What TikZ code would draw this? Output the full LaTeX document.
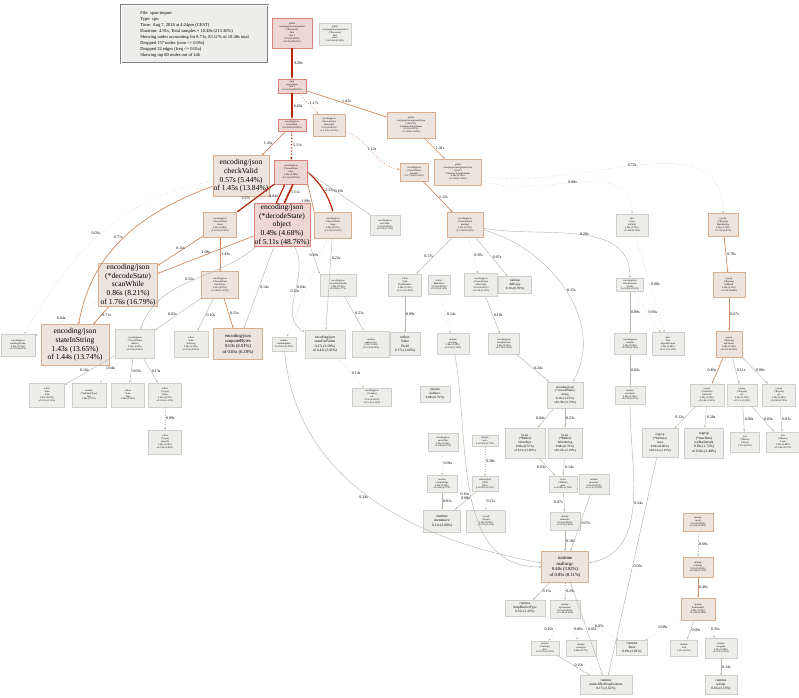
\documentclass[tikz,border=0pt]{standalone}
\usepackage{fontspec}
\setmainfont{Liberation Serif}
\usetikzlibrary{arrows.meta}
\definecolor{gfill}{HTML}{EDEDEB}\definecolor{gline}{HTML}{CFCFC9}
\definecolor{bfill}{HTML}{EDE4DD}\definecolor{bline}{HTML}{D8AE90}
\definecolor{rfill}{HTML}{EED6D2}\definecolor{rline}{HTML}{D5837A}
\definecolor{eg}{HTML}{B8B6AE}\definecolor{eb}{HTML}{CC8C62}\definecolor{er}{HTML}{B5260C}
\tikzset{
 base/.style={draw, rectangle, align=center, inner sep=0.6pt, line width=0.6pt, font=\fontsize{2.4}{2.9}\selectfont},
 gry/.style={base, fill=gfill, draw=gline},
 bei/.style={base, fill=bfill, draw=bline},
 rd/.style={base, fill=rfill, draw=rline},
 big/.style={font=\fontsize{7.6}{8.6}\selectfont},
 mid/.style={font=\fontsize{4.6}{5.4}\selectfont},
 e/.style={-{Stealth[length=2.4pt,width=2pt]}, draw=eg, line width=0.45pt},
 eb/.style={e, draw=eb, line width=0.7pt},
 er/.style={e, draw=er, line width=1.2pt},
 dt/.style={dotted},
 lab/.style={font=\fontsize{4}{4.6}\selectfont, inner sep=1pt, text=black},
}
\begin{document}
\begin{tikzpicture}[x=1pt,y=-1pt]
\useasboundingbox (0,0) rectangle (799,697);
% legend
\node[draw=gray, double, double distance=1pt, fill=gfill, align=left, anchor=north west, inner sep=2.5pt, font=\fontsize{4.5}{6}\selectfont, minimum width=147pt, minimum height=58pt] (legend) at (121,5) {File: span-import\\Type: cpu\\Time: Aug 7, 2018 at 4:24pm (CEST)\\Duration: 4.91s, Total samples = 10.48s (213.36\%)\\Showing nodes accounting for 8.71s, 83.11\% of 10.48s total\\Dropped 157 nodes (cum <= 0.05s)\\Dropped 32 edges (freq <= 0.01s)\\Showing top 80 nodes out of 146};
% nodes
\node[rd, minimum width=40pt, minimum height=30pt] (run1) at (292,33) {github\\com/jaegertracing/parallel\\(*Processor)\\Run\\func1\\0.01s (0.095\%)\\of 9.35s (89.22\%)};
\node[gry, minimum width=32pt, minimum height=22pt] (run2) at (335,34) {github\\com/jaegertracing/parallel\\(*Processor)\\Run\\func2\\0 of 0.04s (0.38\%)};
\node[rd, minimum width=28pt, minimum height=14pt] (proc) at (292,86) {main\\processSpan\\func1\\0 of 9.25s (88.26\%)};
\node[rd, minimum width=28pt, minimum height=12pt] (unm) at (292,125) {encoding/json\\Unmarshal\\0 of 6.60s (62.98\%)};
\node[bei, minimum width=32pt, minimum height=22pt] (dunm) at (329,125) {encoding/json\\(*decodeState)\\unmarshal\\0.01s (0.095\%)\\of 1.17s (11.16\%)};
\node[bei, minimum width=48pt, minimum height=26pt] (tel1) at (411,125) {github\\com/jaegertracing/model/json\\(*AttrsV1)\\TelemetryAttrsSchema\\0.01s (0.095\%)\\of 1.43s (13.64\%)};
\node[bei, big, minimum width=53pt, minimum height=41pt] (chk) at (241,176) {encoding/json\\checkValid\\0.57s (5.44\%)\\of 1.45s (13.84\%)};
\node[rd, minimum width=33pt, minimum height=24pt] (val) at (291,172) {encoding/json\\(*decodeState)\\value\\0.05s (0.48\%)\\of 5.11s (48.76\%)};
\node[bei, minimum width=28pt, minimum height=18pt] (mar) at (414,172) {encoding/json\\(*encodeState)\\marshal\\0 of 1.12s (10.69\%)};
\node[bei, minimum width=47pt, minimum height=26pt] (tel2) at (458,172) {github\\com/jaegertracing/model/json\\AttrsV1\\TelemetryToJsonSchema\\0.02s (0.19\%)\\of 1.41s (13.45\%)};
\node[bei, minimum width=33pt, minimum height=25pt] (lit) at (220,225) {encoding/json\\(*decodeState)\\literal\\0.05s (0.48\%)\\of 2.67s (25.48\%)};
\node[rd, big, minimum width=51pt, minimum height=38pt] (obj) at (282,225) {encoding/json\\(*decodeState)\\object\\0.49s (4.68\%)\\of 5.11s (48.76\%)};
\node[bei, minimum width=37pt, minimum height=26pt] (arr) at (333,225) {encoding/json\\(*decodeState)\\array\\0.06s (0.57\%)\\of 2.33s (22.23\%)};
\node[gry, minimum width=30pt, minimum height=20pt] (nxt) at (385,225) {encoding/json\\nextValue\\0.01s (0.095\%)\\of 0.18s (1.72\%)};
\node[bei, minimum width=36pt, minimum height=25pt] (enc) at (465,225) {encoding/json\\(*encodeState)\\marshal\\0.07s (0.67\%)\\of 1.12s (10.69\%)};
\node[gry, minimum width=32pt, minimum height=22pt] (fmt) at (632,225) {fmt\\(*pp)\\doPrintf\\0.04s (0.38\%)\\of 0.08s (0.76\%)};
\node[bei, minimum width=30pt, minimum height=23pt] (rms) at (723,225) {regexp\\(*Regexp)\\MatchString\\0.02s (0.19\%)\\of 0.72s (6.87\%)};
\node[bei, big, minimum width=59pt, minimum height=43pt] (scw) at (128,285) {encoding/json\\(*decodeState)\\scanWhile\\0.86s (8.21\%)\\of 1.76s (16.79\%)};
\node[bei, minimum width=37pt, minimum height=27pt] (lst) at (220,285) {encoding/json\\(*decodeState)\\literalStore\\0.07s (0.67\%)\\of 1.43s (13.65\%)};
\node[gry, minimum width=36pt, minimum height=22pt] (ctf) at (338,285) {encoding/json\\cachedTypeFields\\0.08s (0.76\%)\\of 0.29s (2.77\%)};
\node[gry, minimum width=33pt, minimum height=22pt] (fbi) at (405,285) {reflect\\Value\\FieldByIndex\\0.08s (0.76\%)\\of 0.17s (1.62\%)};
\node[gry, minimum width=22pt, minimum height=19pt] (msl) at (439,285) {reflect\\MakeSlice\\0.01s (0.095\%)\\of 0.22s (2.10\%)};
\node[gry, minimum width=33pt, minimum height=23pt] (rvl) at (481,285) {encoding/json\\(*encodeState)\\reflectValue\\0.01s (0.095\%)\\of 0.39s (3.72\%)};
\node[gry, minimum width=33pt, minimum height=17pt, font=\fontsize{3.2}{3.8}\selectfont] (dcp) at (515,285) {runtime\\duffcopy\\0.10s (0.95\%)};
\node[gry, minimum width=27pt, minimum height=13pt] (sen) at (630,285) {encoding/json\\structEncoder\\encode\\0 of 0.20s (1.91\%)};
\node[bei, minimum width=32pt, minimum height=25pt] (dmt) at (729,285) {regexp\\(*Regexp)\\doMatch\\0.02s (0.19\%)\\of 0.70s (6.68\%)};
\node[gry, minimum width=34pt, minimum height=22pt] (sbv) at (18,345) {encoding/json\\stateBeginValue\\0.06s (0.57\%)\\of 0.07s (0.67\%)};
\node[bei, big, minimum width=68pt, minimum height=41pt] (sis) at (75,345) {encoding/json\\stateInString\\1.43s (13.65\%)\\of 1.44s (13.74\%)};
\node[gry, minimum width=39pt, minimum height=29pt] (ind) at (135,344) {encoding/json\\(*decodeState)\\indirect\\0.16s (1.53\%)\\of 0.61s (5.82\%)};
\node[gry, minimum width=34pt, minimum height=26pt] (sst) at (191,344) {reflect\\Value\\SetString\\0.08s (0.76\%)\\of 0.10s (0.95\%)};
\node[bei, mid, minimum width=49pt, minimum height=31pt] (unq) at (238,344) {encoding/json\\unquoteBytes\\0.63s (6.01\%)\\of 0.65s (6.20\%)};
\node[gry, minimum width=24pt, minimum height=14pt] (smd) at (284,344) {runtime\\stackmapdata\\0 of 0.24s (2.29\%)};
\node[gry, minimum width=40pt, minimum height=28pt, font=\fontsize{3.6}{4.3}\selectfont] (sev) at (325,344) {encoding/json\\stateEndValue\\0.27s (2.58\%)\\of 0.41s (3.91\%)};
\node[gry, minimum width=37pt, minimum height=26pt] (map) at (371,344) {runtime\\mapaccess1\\0.13s (1.24\%)\\of 0.21s (2.00\%)};
\node[gry, minimum width=30pt, minimum height=23pt, font=\fontsize{3.6}{4.3}\selectfont] (fld) at (405,344) {reflect\\Value\\Field\\0.17s (1.62\%)};
\node[gry, minimum width=32pt, minimum height=21pt] (nar) at (453,344) {runtime\\newarray\\0.04s (0.38\%)\\of 0.14s (1.34\%)};
\node[gry, minimum width=31pt, minimum height=21pt] (sten) at (504,344) {encoding/json\\stringEncoder\\0.02s (0.19\%)\\of 0.32s (3.05\%)};
\node[gry, minimum width=32pt, minimum height=21pt] (cmp) at (630,344) {encoding/json\\compact\\0.04s (0.38\%)\\of 0.08s (0.76\%)};
\node[gry, minimum width=32pt, minimum height=23pt] (apf) at (668,344) {time\\Time\\AppendFormat\\0.05s (0.48\%)\\of 0.11s (1.05\%)};
\node[bei, minimum width=26pt, minimum height=26pt] (dex) at (729,344) {regexp\\(*Regexp)\\doExecute\\0.08s (0.76\%)\\of 0.67s (6.39\%)};
\node[gry, minimum width=35pt, minimum height=24pt] (adr) at (47,395) {reflect\\Value\\Addr\\0.07s (0.67\%)\\of 0.16s (1.53\%)};
\node[gry, minimum width=34pt, minimum height=24pt] (itb) at (89,395) {runtime\\(*itabTableType)\\find\\0.06s (0.57\%)};
\node[gry, minimum width=33pt, minimum height=24pt] (typ) at (128,395) {reflect\\Value\\Type\\0.08s (0.76\%)};
\node[gry, minimum width=33pt, minimum height=24pt] (nam) at (165,395) {reflect\\(*rtype)\\Name\\0.06s (0.57\%)\\of 0.16s (1.53\%)};
\node[gry, minimum width=39pt, minimum height=18pt] (eoc) at (372,397) {encoding/json\\(*scanner)\\eof\\0.01s (0.095\%)\\of 0.14s (1.34\%)};
\node[gry, minimum width=30pt, minimum height=16pt, font=\fontsize{3.2}{3.8}\selectfont] (dzr) at (435,394) {runtime\\duffzero\\0.08s (0.76\%)};
\node[gry, minimum width=36pt, minimum height=26pt, font=\fontsize{3.2}{3.8}\selectfont] (ess) at (565,395) {encoding/json\\(*encodeState)\\string\\0.12s (1.15\%)\\of 0.39s (3.72\%)};
\node[gry, minimum width=30pt, minimum height=18pt] (nob) at (630,395) {runtime\\newobject\\0.02s (0.19\%)\\of 0.28s (2.67\%)};
\node[gry, minimum width=34pt, minimum height=22pt] (btr) at (707,395) {regexp\\(*machine)\\backtrack\\0.02s (0.19\%)\\of 0.40s (3.82\%)};
\node[gry, minimum width=30pt, minimum height=22pt] (put) at (742,395) {regexp\\(*Regexp)\\put\\0.02s (0.19\%)\\of 0.11s (1.05\%)};
\node[gry, minimum width=33pt, minimum height=22pt] (get) at (779,395) {regexp\\(*Regexp)\\get\\0.04s (0.38\%)\\of 0.08s (0.76\%)};
\node[gry, minimum width=33pt, minimum height=24pt] (nof) at (165,442) {reflect\\(*rtype)\\nameOff\\0.04s (0.38\%)\\of 0.09s (0.86\%)};
\node[gry, minimum width=30pt, minimum height=18pt] (qch) at (443,442) {encoding/json\\quoteChar\\0.02s (0.19\%)\\of 0.06s (0.57\%)};
\node[gry, minimum width=26pt, minimum height=11pt] (mqb) at (485,441) {runtime\\write\\0 of 0.29s (2.77\%)};
\node[gry, minimum width=40pt, minimum height=30pt, font=\fontsize{3.2}{3.8}\selectfont] (wrb) at (525,443) {bytes\\(*Buffer)\\WriteByte\\0.06s (0.57\%)\\of 0.11s (1.05\%)};
\node[gry, minimum width=34pt, minimum height=30pt, font=\fontsize{3.2}{3.8}\selectfont] (wrs) at (565,443) {bytes\\(*Buffer)\\WriteString\\0.08s (0.76\%)\\of 0.23s (2.19\%)};
\node[gry, minimum width=36pt, minimum height=29pt, font=\fontsize{3.2}{3.8}\selectfont] (rst) at (660,443) {regexp\\(*bitState)\\reset\\0.09s (0.86\%)\\of 0.12s (1.15\%)};
\node[gry, minimum width=39pt, minimum height=30pt, font=\fontsize{3.6}{4.3}\selectfont] (tbk) at (704,443) {regexp\\(*machine)\\tryBacktrack\\0.18s (1.72\%)\\of 0.26s (2.48\%)};
\node[gry, minimum width=29pt, minimum height=20pt] (unl) at (745,442) {sync\\(*Mutex)\\Unlock\\0.07s (0.67\%)};
\node[gry, minimum width=34pt, minimum height=20pt] (lck) at (783,442) {sync\\(*Mutex)\\Lock\\0.05s (0.48\%)\\of 0.06s (0.57\%)};
\node[gry, minimum width=30pt, minimum height=17pt] (cst) at (442,484) {runtime\\concatstrings\\0.02s (0.19\%)\\of 0.06s (0.57\%)};
\node[gry, minimum width=26pt, minimum height=15pt] (wr2) at (485,484) {internal/poll\\(*FD)\\Write\\0 of 0.28s (2.67\%)};
\node[gry, minimum width=28pt, minimum height=16pt] (grw) at (563,484) {bytes\\(*Buffer)\\grow\\0 of 0.08s (0.76\%)};
\node[gry, minimum width=30pt, minimum height=20pt] (gsl) at (594,484) {runtime\\growslice\\0.01s (0.095\%)\\of 0.11s (1.05\%)};
\node[gry, minimum width=37pt, minimum height=22pt, font=\fontsize{3.6}{4.3}\selectfont] (mmv) at (442,521) {runtime\\memmove\\0.21s (2.00\%)};
\node[gry, minimum width=39pt, minimum height=22pt] (sys) at (486,521) {syscall\\Syscall\\0.10s (0.95\%)\\of 0.12s (1.15\%)};
\node[gry, minimum width=30pt, minimum height=18pt] (msk) at (565,521) {runtime\\makeslice\\0.01s (0.095\%)\\of 0.19s (1.81\%)};
\node[bei, minimum width=30pt, minimum height=18pt] (mcl) at (698,522) {runtime\\mcall\\0.01s (0.095\%)\\of 0.62s (5.92\%)};
\node[bei, mid, minimum width=47pt, minimum height=31pt] (mgc) at (565,567) {runtime\\mallocgc\\0.40s (3.82\%)\\of 0.85s (8.11\%)};
\node[bei, minimum width=30pt, minimum height=20pt] (sch) at (698,567) {runtime\\schedule\\0.01s (0.095\%)\\of 0.60s (5.73\%)};
\node[gry, minimum width=40pt, minimum height=16pt, font=\fontsize{3.4}{4}\selectfont] (hbs) at (525,608) {runtime\\heapBitsSetType\\0.15s (1.43\%)};
\node[gry, minimum width=30pt, minimum height=18pt] (sst2) at (565,609) {runtime\\systemstack\\0.01s (0.095\%)\\of 0.44s (4.20\%)};
\node[bei, minimum width=34pt, minimum height=22pt] (fru) at (698,609) {runtime\\findrunnable\\0.08s (0.76\%)\\of 0.48s (4.58\%)};
\node[gry, minimum width=28pt, minimum height=14pt] (mha) at (545,648) {runtime\\(*mheap)\\alloc\\0 of 0.16s (1.53\%)};
\node[gry, minimum width=30pt, minimum height=16pt] (sob) at (581,648) {runtime\\scanobject\\0.06s (0.57\%)};
\node[gry, minimum width=31pt, minimum height=15pt, font=\fontsize{3.4}{4}\selectfont] (ftx) at (632,648) {runtime\\futex\\0.19s (1.81\%)};
\node[gry, minimum width=27pt, minimum height=16pt] (lk) at (684,648) {runtime\\lock\\0.07s (0.67\%)};
\node[gry, minimum width=32pt, minimum height=20pt] (rqg) at (721,648) {runtime\\runqgrab\\0.05s (0.48\%)\\of 0.19s (1.81\%)};
\node[gry, minimum width=52pt, minimum height=19pt, font=\fontsize{3.4}{4}\selectfont] (mcnp) at (606,685) {runtime\\memclrNoHeapPointers\\0.17s (1.62\%)};
\node[gry, minimum width=32pt, minimum height=19pt, font=\fontsize{3.4}{4}\selectfont] (usl) at (721,685) {runtime\\usleep\\0.16s (1.53\%)};
% edges
\draw[er, line width=2.2pt] (run1) -- node[lab,right]{9.28s} (proc);
\draw[er, line width=1.8pt] (proc) -- node[lab,right]{6.60s} (unm);
\draw[eb, dt] (proc) -- node[lab,right]{1.17s} (dunm);
\draw[eb] (proc) -- node[lab,above]{1.43s} (tel1);
\draw[eb] (unm) -- node[lab,left]{1.45s} (chk);
\draw[er, dt] (unm) -- node[lab,right]{5.11s} (val);
\draw[eb] (tel1) -- node[lab,right]{1.41s} (tel2);
\draw[eb, dt] (dunm) to[out=-20,in=170] node[lab,above]{1.12s} (mar);
\draw[eb] (mar) -- node[lab,right]{1.12s} (enc);
\draw[er] (val.south west) -- node[lab,above left, pos=0.6]{2.67s} (lit.north east);
\draw[er] ([xshift=-6pt]obj.north) -- node[lab,left, pos=0.4]{4.84s} ([xshift=-6pt]val.south);
\draw[er, line width=1.6pt] ([xshift=2pt]val.south) -- node[lab,right, pos=0.4]{5.11s} ([xshift=2pt]obj.north);
\draw[eb] (arr.north west) -- node[lab,left, pos=0.4]{1.88s} (val.south east);
\draw[er] (val.east) to[bend left=15] node[lab,right]{2.33s} (arr.north);
\draw[e] (val.east) -- node[lab,above]{0.18s} (nxt);
\draw[eb] (lit) -- node[lab,above]{0.11s} (scw);
\draw[eb] (obj) -- node[lab,above]{1.08s} (scw);
\draw[eb] (lit) -- node[lab,right]{1.43s} (lst);
\draw[eb] (chk) to[out=200,in=80] node[lab,left]{0.71s} (sis);
\draw[eb] (scw) -- node[lab,right]{0.71s} (sis);
\draw[e, dt] (chk) to[out=190,in=60] node[lab,left]{0.03s} (sbv);
\draw[e, dt] (scw) -- node[lab,left]{0.04s} (sbv);
\draw[e] (obj) to[out=220,in=70] node[lab,above]{0.52s} (ind);
\draw[e] (lst) -- node[lab,left]{0.03s} (ind);
\draw[e] (lst) -- node[lab,right]{0.10s} (sst);
\draw[eb] (lst) -- node[lab,right]{0.51s} (unq);
\draw[e] (obj) -- node[lab,right]{0.14s} (unq);
\draw[e] (obj.south east) -- node[lab,above, pos=0.4]{0.29s} (ctf.north west);
\draw[e] (obj) to[out=-60,in=150] node[lab,above]{0.23s} (sev);
\draw[e] (arr) -- node[lab,right, pos=0.22]{0.22s} (sev);
\draw[e] (ctf) -- node[lab,right]{0.21s} (map);
\draw[e, dt] (arr) -- node[lab,left]{0.04s} (smd);
\draw[e] (ind) -- node[lab,left]{0.16s} (adr);
\draw[e, dt] (ind) -- node[lab,above]{0.04s} (itb);
\draw[e] (ind) -- node[lab,right]{0.05s} (typ);
\draw[e] (ind) -- node[lab,right]{0.13s} (nam);
\draw[e, dt] (nam) -- node[lab,right]{0.09s} (nof);
\draw[e, dt] (sev) -- node[lab,right]{0.14s} (eoc);
\draw[e] (enc) -- node[lab,left]{0.17s} (fbi);
\draw[e, dt] (enc) -- node[lab,right]{0.30s} (rvl);
\draw[e] (enc) -- node[lab,right]{0.07s} (dcp);
\draw[e] (enc) to[out=-10,in=90] node[lab,right]{0.20s} (sen);
\draw[e] (enc) to[out=-15,in=60] node[lab,right]{0.15s} (ess);
\draw[e] (fbi) -- node[lab,right]{0.09s} (fld);
\draw[e, dt] (msl) -- node[lab,right]{0.14s} (nar);
\draw[e] (rvl) -- node[lab,right]{0.10s} (sten);
\draw[e] (sten) -- node[lab,right]{0.24s} (ess);
\draw[e] (sen) -- node[lab,right]{0.09s} (cmp);
\draw[e, dt] (sen) -- node[lab,right]{0.06s} (apf);
\draw[e, dt] (fmt) -- node[lab,right]{0.08s} (apf);
\draw[e] (cmp) -- node[lab,right]{0.02s} (nob);
\draw[e] (nob) to[out=-90,in=10] node[lab,right]{0.24s} (mgc);
\draw[eb] (rms) -- node[lab,right]{0.70s} (dmt);
\draw[eb] (dmt) -- node[lab,right]{0.67s} (dex);
\draw[eb] (dex) -- node[lab,left]{0.40s} (btr);
\draw[e] (dex) -- node[lab,right]{0.11s} (put);
\draw[e] (dex) -- node[lab,right]{0.08s} (get);
\draw[e] (btr) -- node[lab,left]{0.12s} (rst);
\draw[e] (btr) -- node[lab,right]{0.28s} (tbk);
\draw[e] (put) -- node[lab,right]{0.06s} (unl);
\draw[e] (put) -- node[lab,right]{0.03s} (lck);
\draw[e] (get) -- node[lab,right]{0.03s} (lck);
\draw[e] (ess) -- node[lab,left]{0.04s} (wrb);
\draw[e] (ess) -- node[lab,right]{0.23s} (wrs);
\draw[e] (wrb) -- node[lab,left]{0.02s} (grw);
\draw[e] (wrs) -- node[lab,right]{0.14s} (grw);
\draw[e, dt] (qch) -- node[lab,right]{0.04s} (cst);
\draw[e, dt] (mqb) -- node[lab,right]{0.28s} (wr2);
\draw[e, dt] (wr2) -- node[lab,right]{0.11s} (sys);
\draw[e] (cst) -- node[lab,right]{0.01s} (mmv);
\draw[e] (wr2) -- node[lab,above]{0.08s} (mmv);
\draw[e] (grw) -- node[lab,left]{0.07s} (msk);
\draw[e] (gsl) -- node[lab,right]{0.07s} (mgc);
\draw[e] (msk) -- node[lab,right]{0.18s} (mgc);
\draw[e] (nar) to[out=-80,in=180] node[lab,left]{0.10s} (mgc);
\draw[e] (smd) to[out=-85,in=170] node[lab,left]{0.24s} (mgc);
\draw[e] (mgc) -- node[lab,right]{0.15s} (hbs);
\draw[e, dt] (mgc) -- node[lab,right]{0.29s} (sst2);
\draw[e] (mgc) -- node[lab,right]{0.05s} (mcnp);
\draw[e, dt] (sst2) -- node[lab,left]{0.16s} (mha);
\draw[e, dt] (sst2) -- node[lab,right]{0.06s} (sob);
\draw[e, dt] (sst2) -- node[lab,above]{0.05s} (ftx);
\draw[e] (mha) -- node[lab,right]{0.10s} (mcnp);
\draw[e] (rst) -- node[lab,right]{0.03s} (mcnp);
\draw[e, dt] (mcl) -- node[lab,right]{0.60s} (sch);
\draw[eb] (sch) -- node[lab,right]{0.48s} (fru);
\draw[e, dt] (fru) -- node[lab,above]{0.08s} (ftx);
\draw[e] (fru) -- node[lab,right]{0.09s} (lk);
\draw[e, dt] (fru) -- node[lab,right]{0.35s} (rqg);
\draw[e] (rqg) -- node[lab,right]{0.14s} (usl);
\draw[e, dt] (tel2) to[out=-10,in=90] node[lab,left]{0.72s} (rms);
\draw[e, dt] (tel2) to[out=-20,in=90] node[lab,left]{0.08s} (fmt);
\end{tikzpicture}
\end{document}
